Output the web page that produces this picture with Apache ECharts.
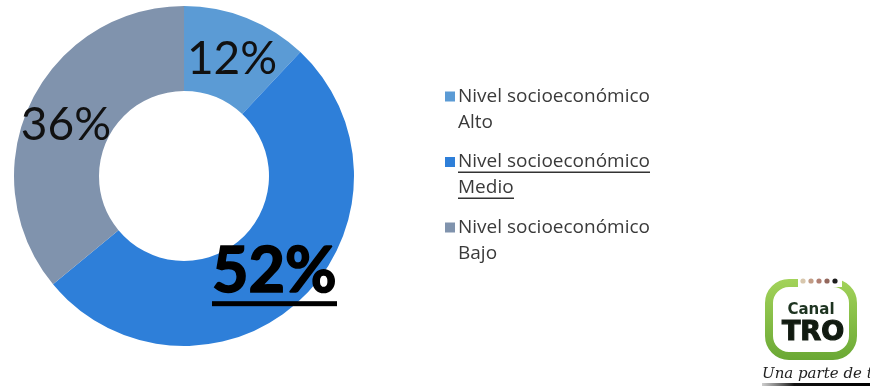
<!DOCTYPE html>
<html>
<head>
<meta charset="utf-8">
<script src="https://cdn.jsdelivr.net/npm/echarts@6/dist/echarts.min.js"></script>
<style>
  html, body { margin: 0; padding: 0; background: #fff; }
  #chart { width: 870px; height: 389px; }
</style>
</head>
<body>
<div id="chart"></div>
<script>
// Socio-economic level of the audience (share of respondents, %)
const levelPrefix = 'Nivel socioeconómico';
const levelNames = ['Alto', 'Medio', 'Bajo'];
const levelShares = [12, 52, 36];
const highlightedLevel = 'Medio';

const palette = ['#5b9bd5', '#2e7fd9', '#8093ad'];
const FONT = 'Lato, "Open Sans", sans-serif';
const LEGEND_FONT = '"Open Sans", "Noto Sans", sans-serif';
const LEGEND_SIZE = 19;

// Small canvas used as a stretched background that paints an underline
function underlineImage(h, y, thickness, color) {
  const c = document.createElement('canvas');
  c.width = 4;
  c.height = h;
  const ctx = c.getContext('2d');
  ctx.fillStyle = color;
  ctx.fillRect(0, y, 4, thickness);
  return c;
}

const fullNames = levelNames.map(n => levelPrefix + ' ' + n);
const seriesData = levelNames.map((n, i) => {
  const item = { name: fullNames[i], value: levelShares[i], itemStyle: { color: palette[i] } };
  item.label = n === highlightedLevel ? { offset: [1, 1] } : { offset: [0, 5] };
  return item;
});

const chart = echarts.init(document.getElementById('chart'), null, { renderer: 'canvas' });

chart.setOption({
  animation: false,
  backgroundColor: '#ffffff',
  legend: {
    orient: 'vertical',
    left: 445,
    top: 57.5,
    padding: 0,
    itemGap: -12.5,
    itemWidth: 10,
    itemHeight: 10,
    icon: 'rect',
    selectedMode: false,
    data: fullNames,
    formatter: function (name) {
      const idx = fullNames.indexOf(name);
      const style = levelNames[idx] === highlightedLevel ? 'u' : 't';
      return '{' + style + '|' + levelPrefix + '}\n{' + style + '|' + levelNames[idx] + '}';
    },
    textStyle: {
      fontFamily: LEGEND_FONT,
      fontSize: LEGEND_SIZE,
      color: '#3a3a3a',
      lineHeight: 26,
      padding: [26, 0, 0, -2],
      rich: {
        t: { fontFamily: LEGEND_FONT, fontSize: LEGEND_SIZE, color: '#3a3a3a', lineHeight: 26, height: 26 },
        u: {
          fontFamily: LEGEND_FONT, fontSize: LEGEND_SIZE, color: '#3a3a3a', lineHeight: 26, height: 26,
          backgroundColor: { image: underlineImage(26, 22.5, 1.5, '#333333') }
        }
      }
    }
  },
  series: [{
    type: 'pie',
    center: [184, 176],
    radius: [85, 170],
    startAngle: 90,
    clockwise: true,
    avoidLabelOverlap: false,
    silent: true,
    itemStyle: { borderWidth: 0 },
    label: {
      show: true,
      position: 'inside',
      fontFamily: FONT,
      color: '#111111',
      formatter: function (p) {
        const txt = Math.round(p.percent) + '%';
        return levelNames[p.dataIndex] === highlightedLevel ? '{big|' + txt + '}' : '{norm|' + txt + '}';
      },
      rich: {
        norm: { fontFamily: FONT, fontSize: 46, color: '#111111' },
        big: {
          fontFamily: FONT, fontSize: 63, fontWeight: 'bold', color: '#000000',
          textBorderColor: '#000000', textBorderWidth: 1.6,
          height: 80, lineHeight: 80,
          backgroundColor: { image: underlineImage(80, 69, 5, '#000000') }
        }
      }
    },
    labelLine: { show: false },
    data: seriesData
  }],
  graphic: [{
    type: 'group',
    silent: true,
    children: [
      {
        type: 'rect',
        shape: { x: 769, y: 283, width: 84, height: 73, r: 20 },
        style: {
          fill: '#ffffff',
          lineWidth: 8,
          stroke: new echarts.graphic.LinearGradient(0, 0, 0, 1, [
            { offset: 0, color: '#a3d35a' },
            { offset: 1, color: '#6aa834' }
          ])
        }
      },
      { type: 'rect', shape: { x: 798, y: 275, width: 44, height: 12 }, style: { fill: '#ffffff' } },
      { type: 'circle', shape: { cx: 803, cy: 281, r: 2.6 }, style: { fill: '#d8c7ad' } },
      { type: 'circle', shape: { cx: 811, cy: 281, r: 2.6 }, style: { fill: '#c29c86' } },
      { type: 'circle', shape: { cx: 819, cy: 281, r: 2.6 }, style: { fill: '#b07f72' } },
      { type: 'circle', shape: { cx: 827, cy: 281, r: 2.6 }, style: { fill: '#93675c' } },
      { type: 'circle', shape: { cx: 835, cy: 281, r: 2.6 }, style: { fill: '#1d1d1d' } },
      {
        type: 'text',
        style: {
          x: 811, y: 310, text: 'Canal', align: 'center', verticalAlign: 'middle',
          fontFamily: '"DejaVu Sans", sans-serif', fontWeight: 'bold', fontSize: 15, fill: '#1d3320'
        }
      },
      {
        type: 'text',
        style: {
          x: 813, y: 333, text: 'TRO', align: 'center', verticalAlign: 'middle',
          fontFamily: '"DejaVu Sans", sans-serif', fontWeight: 'bold', fontSize: 27, fill: '#111a10',
          stroke: '#111a10', lineWidth: 1.2
        }
      },
      {
        type: 'text',
        style: {
          x: 762, y: 374, text: 'Una parte de ti', align: 'left', verticalAlign: 'middle',
          fontFamily: '"DejaVu Serif", serif', fontStyle: 'italic', fontSize: 15, fill: '#222222'
        }
      },
      {
        type: 'rect',
        shape: { x: 762, y: 383, width: 108, height: 3 },
        style: {
          fill: new echarts.graphic.LinearGradient(0, 0, 1, 0, [
            { offset: 0, color: 'rgba(60,60,60,0.25)' },
            { offset: 0.3, color: '#111111' },
            { offset: 1, color: '#000000' }
          ])
        }
      }
    ]
  }]
});
</script>
</body>
</html>
